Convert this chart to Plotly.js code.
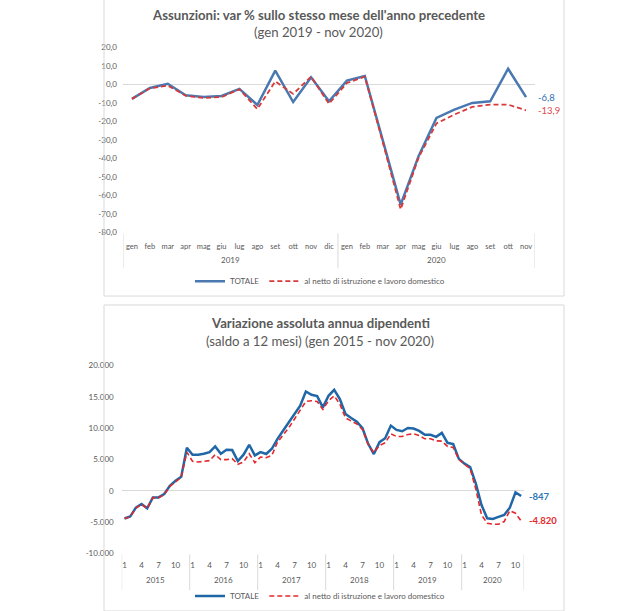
<!DOCTYPE html>
<html><head><meta charset="utf-8">
<script src="https://cdn.plot.ly/plotly-3.0.1.min.js"></script>
<style>html,body{margin:0;padding:0;background:#fff;}#chart{width:637px;height:611px;}</style>
</head><body><div id="chart"></div>
<script>
// ---------- Chart 1: Assunzioni ----------
const months1 = ['gen','feb','mar','apr','mag','giu','lug','ago','set','ott','nov','dic',
                 'gen','feb','mar','apr','mag','giu','lug','ago','set','ott','nov'];
const yearLabels1 = ['2019','2020'];
const yearCounts1 = [12, 11];
const totale1 = [-7.7,-1.8,0.5,-5.8,-6.7,-6.1,-2.3,-11.0,7.6,-9.4,4.0,-9.0,
                 2.2,4.7,-30.0,-64.9,-38.7,-18.0,-13.5,-9.9,-9.0,8.6,-6.8];
const netto1  = [-7.7,-2.0,-0.5,-6.0,-7.2,-6.7,-2.5,-13.2,1.8,-5.0,4.3,-10.4,
                 0.9,4.3,-31.0,-67.5,-39.5,-21.0,-16.2,-12.0,-10.8,-10.8,-13.9];
const yTickVals1 = [20,10,0,-10,-20,-30,-40,-50,-60,-70,-80];
const yTickText1 = ['20,0','10,0','0,0','-10,0','-20,0','-30,0','-40,0','-50,0','-60,0','-70,0','-80,0'];
const endLabels1 = ['-6,8','-13,9'];

// ---------- Chart 2: Variazione assoluta ----------
const yearLabels2 = ['2015','2016','2017','2018','2019','2020'];
const yearCounts2 = [12,12,12,12,12,11];
const shownMonths2 = ['1','4','7','10'];
const totale2 = [
  -4440,-4120,-2700,-2110,-2800,-1060,-1060,-530,790,1590,2220,6870,
  5760,5760,5920,6180,7080,5920,6550,6500,4760,5760,7350,5650,
  6180,5870,6710,8300,9620,10940,12260,13580,15860,15330,15120,13320,
  15170,16120,14640,12260,11630,11050,9990,7500,5870,7770,8400,10410,
  9720,9510,10040,9940,9570,8930,8930,8610,9250,7660,7450,5100,
  4330,3800,1150,-2270,-4390,-4490,-4180,-3860,-2700,-260,-847];
const netto2 = [
  -4440,-4150,-2750,-2150,-2850,-1100,-1100,-600,700,1500,2150,6180,
  4700,4600,4700,4810,5760,4970,4970,5130,4230,4600,5920,4490,
  5390,5290,5650,7770,8930,10090,11470,12900,14270,14380,14270,13000,
  14380,15170,13850,11630,11200,10680,9780,7400,6080,7240,7660,9090,
  8670,8670,8980,9090,8830,8300,8300,7980,7930,7080,6920,5020,
  4230,3540,260,-3860,-5180,-5340,-5340,-4920,-3170,-3590,-4820];
const yTickVals2 = [20000,15000,10000,5000,0,-5000,-10000];
const yTickText2 = ['20.000','15.000','10.000','5.000','0','-5.000','-10.000'];
const endLabels2 = ['-847','-4.820'];

const seriesNames = ['TOTALE','al netto di istruzione e lavoro domestico'];

// ---------- helpers ----------
const W = 637, H = 611;
const px = x => x / W;
const py = y => 1 - y / H;

// category labels
const cats1 = [];
{ let k = 0; yearLabels1.forEach((y, yi) => { for (let m = 0; m < yearCounts1[yi]; m++) { cats1.push(months1[k] + ' ' + y); k++; } }); }
const cats2 = [], tickVals2 = [], tickText2 = [];
yearLabels2.forEach((y, yi) => {
  for (let m = 1; m <= yearCounts2[yi]; m++) {
    const c = m + '/' + y; cats2.push(c);
    if (shownMonths2.includes(String(m))) { tickVals2.push(c); tickText2.push(String(m)); }
  }
});

const gray = '#595959';
const lineGray = '#d9d9d9';
const FONT = 'Lato, "Open Sans", sans-serif';

const blue1 = '#4a78b0', red1 = '#d83a3a';
const blue2 = '#1f67a6', red2 = '#e3282c';

const traces = [
  {x: cats1, y: totale1, type: 'scatter', mode: 'lines', name: seriesNames[0],
   line: {color: blue1, width: 2.5}, xaxis: 'x', yaxis: 'y', legend: 'legend'},
  {x: cats1, y: netto1, type: 'scatter', mode: 'lines', name: seriesNames[1],
   line: {color: red1, width: 1.8, dash: '5px,3px'}, xaxis: 'x', yaxis: 'y', legend: 'legend'},
  {x: cats2, y: totale2, type: 'scatter', mode: 'lines', name: seriesNames[0],
   line: {color: blue2, width: 2.5}, xaxis: 'x2', yaxis: 'y2', legend: 'legend2'},
  {x: cats2, y: netto2, type: 'scatter', mode: 'lines', name: seriesNames[1],
   line: {color: red2, width: 1.6, dash: '5px,3px'}, xaxis: 'x2', yaxis: 'y2', legend: 'legend2'}
];

const shapes = [];
const annotations = [];

// boxes
shapes.push({type:'rect', xref:'paper', yref:'paper', x0:px(104), x1:px(564), y0:py(298), y1:py(-2), line:{color:lineGray, width:1}});
shapes.push({type:'rect', xref:'paper', yref:'paper', x0:px(104), x1:px(564), y0:py(615), y1:py(307), line:{color:lineGray, width:1}});

// dividers and year labels
function yearAxis(xref, counts, labels, yTop, yBot, yLab) {
  let start = -0.5;
  shapes.push({type:'line', xref:xref, yref:'paper', x0:start, x1:start, y0:py(yTop), y1:py(yBot), line:{color:lineGray, width:1}});
  counts.forEach((c, i) => {
    const end = start + c;
    shapes.push({type:'line', xref:xref, yref:'paper', x0:end, x1:end, y0:py(yTop), y1:py(yBot), line:{color:lineGray, width:1}});
    annotations.push({xref:xref, yref:'paper', x:(start+end)/2, y:py(yLab), text:labels[i], showarrow:false,
      font:{family:FONT, size:8, color:gray}, xanchor:'center', yanchor:'middle'});
    start = end;
  });
}
yearAxis('x', yearCounts1, yearLabels1, 235, 270, 262);
yearAxis('x2', yearCounts2, yearLabels2, 558, 594, 584);

// titles
const titleFont = {family:FONT, size:13.2, color:gray};
annotations.push({xref:'paper', yref:'paper', x:px(319), y:py(15), text:'<b>Assunzioni: var % sullo stesso mese dell\'anno precedente</b>',
  showarrow:false, font:titleFont, xanchor:'center', yanchor:'middle'});
annotations.push({xref:'paper', yref:'paper', x:px(319), y:py(32), text:'(gen 2019 - nov 2020)',
  showarrow:false, font:titleFont, xanchor:'center', yanchor:'middle'});
annotations.push({xref:'paper', yref:'paper', x:px(320), y:py(325), text:'<b>Variazione assoluta annua dipendenti</b>',
  showarrow:false, font:titleFont, xanchor:'center', yanchor:'middle'});
annotations.push({xref:'paper', yref:'paper', x:px(320), y:py(343), text:'(saldo a 12 mesi) (gen 2015 - nov 2020)',
  showarrow:false, font:titleFont, xanchor:'center', yanchor:'middle'});

// end labels
annotations.push({xref:'x', yref:'y', x:cats1.length-1, y:totale1[totale1.length-1], text:endLabels1[0], showarrow:false,
  xanchor:'left', yanchor:'middle', xshift:10, font:{family:FONT, size:9.5, color:'#2e6fb0'}});
annotations.push({xref:'x', yref:'y', x:cats1.length-1, y:netto1[netto1.length-1], text:endLabels1[1], showarrow:false,
  xanchor:'left', yanchor:'middle', xshift:10, font:{family:FONT, size:9.5, color:'#e04a4a'}});
annotations.push({xref:'x2', yref:'y2', x:cats2.length-1, y:totale2[totale2.length-1], text:'<b>'+endLabels2[0]+'</b>', showarrow:false,
  xanchor:'left', yanchor:'middle', xshift:6, font:{family:FONT, size:9.5, color:'#2e75b6'}});
annotations.push({xref:'x2', yref:'y2', x:cats2.length-1, y:netto2[netto2.length-1], text:'<b>'+endLabels2[1]+'</b>', showarrow:false,
  xanchor:'left', yanchor:'middle', xshift:6, font:{family:FONT, size:9.5, color:'#e3282c'}});

const tickFont = {family:FONT, size:8, color:gray};

const layout = {
  width: W, height: H,
  margin: {l:0, r:0, t:0, b:0},
  paper_bgcolor: '#fff', plot_bgcolor: 'rgba(0,0,0,0)',
  showlegend: true,
  xaxis: {domain:[px(123), px(535)], anchor:'y', type:'category', range:[-0.5, cats1.length-0.5],
    tickmode:'array', tickvals:cats1, ticktext:months1, showgrid:false, zeroline:false, showline:false,
    ticks:'', tickfont:{family:FONT, size:7.5, color:gray}, ticklabelstandoff:8, fixedrange:true},
  yaxis: {domain:[py(234), py(48)], anchor:'x', range:[-80, 20], tickmode:'array', tickvals:yTickVals1, ticktext:yTickText1,
    showgrid:false, zeroline:true, zerolinecolor:lineGray, zerolinewidth:1, showline:false, ticks:'',
    tickfont:tickFont, ticklabelstandoff:5},
  xaxis2: {domain:[px(121.7), px(524)], anchor:'y2', type:'category', range:[-0.5, cats2.length-0.5],
    tickmode:'array', tickvals:tickVals2, ticktext:tickText2, showgrid:false, zeroline:false, showline:false,
    ticks:'', tickfont:{family:FONT, size:8, color:gray}, ticklabelstandoff:6, tickangle:0},
  yaxis2: {domain:[py(557), py(368)], anchor:'x2', range:[-10000, 20000], tickmode:'array', tickvals:yTickVals2, ticktext:yTickText2,
    showgrid:false, zeroline:true, zerolinecolor:lineGray, zerolinewidth:1, showline:false, ticks:'',
    tickfont:tickFont, ticklabelstandoff:7},
  legend: {orientation:'h', x:px(190), y:py(283), xanchor:'left', yanchor:'middle', font:{family:FONT, size:8, color:gray},
    bgcolor:'rgba(0,0,0,0)', itemwidth:30},
  legend2: {orientation:'h', x:px(190), y:py(600), xanchor:'left', yanchor:'middle', font:{family:FONT, size:8, color:gray},
    bgcolor:'rgba(0,0,0,0)', itemwidth:30},
  shapes: shapes,
  annotations: annotations
};

Plotly.newPlot('chart', traces, layout, {displayModeBar:false, staticPlot:true});
</script></body></html>
